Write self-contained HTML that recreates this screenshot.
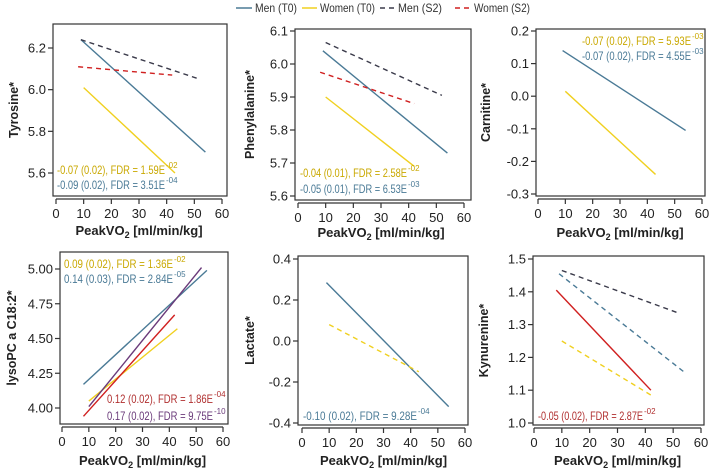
<!DOCTYPE html>
<html><head><meta charset="utf-8"><style>
body{margin:0;background:#fff;}
svg{display:block;font-family:"Liberation Sans",Arial,sans-serif;}
</style></head><body>
<svg id="chart" width="709" height="472" viewBox="0 0 709 472">
<g font-size="12" fill="#333">
 <g><line x1="236" y1="8" x2="252" y2="8" stroke="#4a7a96" stroke-width="1.5"/><text x="255" y="12" textLength="42" lengthAdjust="spacingAndGlyphs">Men (T0)</text></g>
 <g><line x1="302" y1="8" x2="317" y2="8" stroke="#f0d020" stroke-width="1.5"/><text x="320" y="12" textLength="55" lengthAdjust="spacingAndGlyphs">Women (T0)</text></g>
 <g><line x1="380" y1="8" x2="395" y2="8" stroke="#3a3a4a" stroke-width="1.5" stroke-dasharray="5,4"/><text x="398" y="12" textLength="44" lengthAdjust="spacingAndGlyphs">Men (S2)</text></g>
 <g><line x1="455" y1="8" x2="470" y2="8" stroke="#d02020" stroke-width="1.5" stroke-dasharray="5,4"/><text x="474" y="12" textLength="56" lengthAdjust="spacingAndGlyphs">Women (S2)</text></g>
</g>
</svg>
<script>
const xTicks = [0,10,20,30,40,50,60];
// series per panel: [x0, y0, x1, y1]
const tyrMenT0 = [9,6.24,54,5.70], tyrWomenT0 = [10,6.01,43,5.60], tyrMenS2 = [9,6.24,52,6.05], tyrWomenS2 = [8,6.11,42,6.07];
const pheMenT0 = [9,6.04,54,5.73], pheWomenT0 = [10,5.90,42,5.69], pheMenS2 = [10,6.065,52,5.905], pheWomenS2 = [8,5.975,42,5.88];
const carMenT0 = [9,0.14,54,-0.105], carWomenT0 = [10,0.015,43,-0.24];
const lysMen = [8,4.17,54,4.99], lysWomen = [10,4.05,43,4.57], lysRed = [8,3.94,42,4.67], lysPurple = [10,4.01,52,5.01];
const lacMenT0 = [9,0.285,54,-0.32], lacWomen = [10,0.08,43,-0.15];
const kynMenS2 = [10,1.465,52,1.335], kynBlue = [9,1.455,54,1.155], kynRed = [8,1.405,42,1.10], kynYellow = [10,1.25,43,1.08];
const tyrTicks = [5.6,5.8,6.0,6.2], pheTicks = [5.6,5.7,5.8,5.9,6.0,6.1], carTicks = [-0.3,-0.2,-0.1,0.0,0.1,0.2];
const lysTicks = [4.00,4.25,4.50,4.75,5.00], lacTicks = [-0.4,-0.2,0.0,0.2,0.4], kynTicks = [1.0,1.1,1.2,1.3,1.4,1.5];

const C = {blue:'#4a7a96', yellow:'#f0d020', dark:'#3a3a4a', red:'#d02020', purple:'#6a3a7a'};
const TC = {blue:'#4a7a96', yellow:'#c9a800', red:'#b03030', purple:'#6a3a7a'};
const NS='http://www.w3.org/2000/svg';
const svg=document.getElementById('chart');
function mk(tag,attrs,parent){const e=document.createElementNS(NS,tag);for(const k in attrs)e.setAttribute(k,attrs[k]);parent.appendChild(e);return e;}

const panels=[
 {name:'tyrosine',title:'Tyrosine*',box:[53,24,227,196],xr:[56,222],yv:[5.6,6.2],yp:[173,48],ticks:tyrTicks,dec:1,axY:199,ytx:14,xty:235,
  series:[[tyrMenT0,'blue',0],[tyrWomenT0,'yellow',0],[tyrMenS2,'dark',1],[tyrWomenS2,'red',1]],
  notes:[['-0.07 (0.02), FDR = 1.59E','-02','yellow',57,174,108],['-0.09 (0.02), FDR = 3.51E','-04','blue',57,189,108]]},
 {name:'phenylalanine',title:'Phenylalanine*',box:[295,29,471,200],xr:[298,464],yv:[5.6,6.1],yp:[196,31],ticks:pheTicks,dec:1,axY:203,ytx:250,xty:237,
  series:[[pheMenT0,'blue',0],[pheWomenT0,'yellow',0],[pheMenS2,'dark',1],[pheWomenS2,'red',1]],
  notes:[['-0.04 (0.01), FDR = 2.58E','-02','yellow',300,177,107],['-0.05 (0.01), FDR = 6.53E','-03','blue',300,193,107]]},
 {name:'carnitine',title:'Carnitine*',box:[536,29,705,196],xr:[538,702],yv:[-0.3,0.2],yp:[194,31],ticks:carTicks,dec:1,axY:199,ytx:486,xty:237,
  series:[[carMenT0,'blue',0],[carWomenT0,'yellow',0]],
  notes:[['-0.07 (0.02), FDR = 5.93E','-03','yellow',582,45,109],['-0.07 (0.02), FDR = 4.55E','-03','blue',582,60,109]]},
 {name:'lysopc',title:'lysoPC a C18:2*',box:[60,252,228,424],xr:[62,223],yv:[4.0,5.0],yp:[408,269],ticks:lysTicks,dec:2,axY:427,ytx:12,xty:465,
  series:[[lysMen,'blue',0],[lysWomen,'yellow',0],[lysRed,'red',0],[lysPurple,'purple',0]],
  notes:[['0.09 (0.02), FDR = 1.36E','-02','yellow',64,268,109],['0.14 (0.03), FDR = 2.84E','-05','blue',64,283,109],
         ['0.12 (0.02), FDR = 1.86E','-04','red',107,403,106],['0.17 (0.02), FDR = 9.75E','-10','purple',107,420,106]]},
 {name:'lactate',title:'Lactate*',box:[298,256,468,425],xr:[302,465],yv:[-0.4,0.4],yp:[423,259],ticks:lacTicks,dec:1,axY:428,ytx:250,xty:465,
  series:[[lacMenT0,'blue',0],[lacWomen,'yellow',1]],
  notes:[['-0.10 (0.02), FDR = 9.28E','-04','blue',303,420,114]]},
 {name:'kynurenine',title:'Kynurenine*',box:[533,256,704,425],xr:[534,701],yv:[1.0,1.5],yp:[423,259],ticks:kynTicks,dec:1,axY:428,ytx:484,xty:465,
  series:[[kynMenS2,'dark',1],[kynBlue,'blue',1],[kynRed,'red',0],[kynYellow,'yellow',1]],
  notes:[['-0.05 (0.02), FDR = 2.87E','-02','red',538,420,105]]}
];

panels.forEach(p=>{
 const g=mk('g',{},svg);
 
 
 const sx=v=>p.xr[0]+(v-0)*(p.xr[1]-p.xr[0])/60;
 const sy=v=>p.yp[0]+(v-p.yv[0])*(p.yp[1]-p.yp[0])/(p.yv[1]-p.yv[0]);
 const [l,t,r,b]=p.box;
 const box=mk('rect',{x:l,y:t,width:r-l,height:b-t,fill:'none',stroke:'#333','stroke-width':1.2},g);
 
 
 const xa=mk('g',{},g);
 
 
 mk('line',{x1:sx(0),x2:sx(60),y1:p.axY,y2:p.axY,stroke:'#333','stroke-width':1.2},xa);
 xTicks.forEach(v=>{
  mk('line',{x1:sx(v),x2:sx(v),y1:p.axY,y2:p.axY+5,stroke:'#333','stroke-width':1.2},xa);
  const tx=mk('text',{x:sx(v),y:p.axY+19,'text-anchor':'middle','font-size':13,fill:'#222'},xa);
  tx.textContent=v;
  
  
 });
 const xt=mk('text',{x:(sx(0)+sx(60))/2,y:p.xty,'text-anchor':'middle','font-size':13,'font-weight':'bold',fill:'#222'},g);
 xt.innerHTML='PeakVO<tspan font-size="9" dy="3">2</tspan><tspan dy="-3"> [ml/min/kg]</tspan>';
 
 
 const ya=mk('g',{},g);
 
 
 p.ticks.forEach(v=>{
  mk('line',{x1:l-5,x2:l,y1:sy(v),y2:sy(v),stroke:'#333','stroke-width':1.2},ya);
  const tx=mk('text',{x:l-7,y:sy(v)+4.5,'text-anchor':'end','font-size':13,fill:'#222'},ya);
  tx.textContent=v.toFixed(p.dec);
  
  
 });
 const yc=(t+b)/2;
 const yt=mk('text',{x:p.ytx,y:yc,'text-anchor':'middle','font-size':12.5,'font-weight':'bold',fill:'#222',transform:`rotate(-90 ${p.ytx} ${yc})`,dy:4},g);
 yt.textContent=p.title;
 
 
 p.series.forEach(([d,col,dash])=>{
  const ln=mk('line',{x1:sx(d[0]),y1:sy(d[1]),x2:sx(d[2]),y2:sy(d[3]),stroke:C[col],'stroke-width':1.4},g);
  if(dash) ln.setAttribute('stroke-dasharray','5,4');
  
  
 });
 p.notes.forEach(([txt,sup,col,x,y,w])=>{
  const tx=mk('text',{x:x,y:y,'font-size':12,fill:TC[col],textLength:w,lengthAdjust:'spacingAndGlyphs'},g);
  tx.textContent=txt;
  
  
  const s=mk('text',{x:x+w+1,y:y-6,'font-size':8,fill:TC[col]},g);
  s.textContent=sup;
  
  
 });
});
</script>
</body></html>
